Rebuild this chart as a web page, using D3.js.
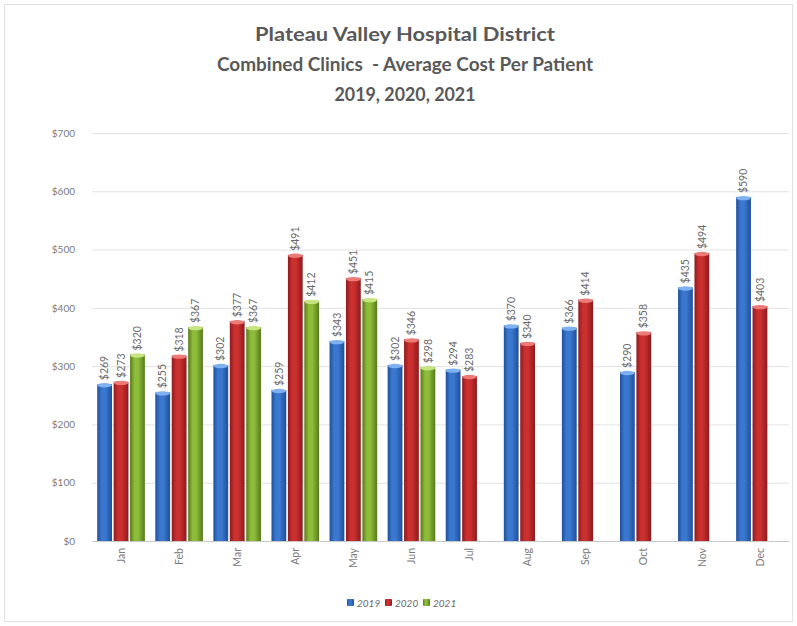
<!DOCTYPE html>
<html>
<head>
<meta charset="utf-8">
<script src="https://cdn.jsdelivr.net/npm/d3@7/dist/d3.min.js"></script>
<style>
  html, body { margin: 0; padding: 0; background: #fff; }
  svg { display: block; }
</style>
</head>
<body>
<svg id="chart" width="797" height="626"></svg>
<script>
const months = ["Jan","Feb","Mar","Apr","May","Jun","Jul","Aug","Sep","Oct","Nov","Dec"];
const seriesNames = ["2019","2020","2021"];
const values2019 = [269,255,302,259,343,302,294,370,366,290,435,590];
const values2020 = [273,318,377,491,451,346,283,340,414,358,494,403];
const values2021 = [320,367,367,412,415,298,null,null,null,null,null,null];
const yTicks = [0,100,200,300,400,500,600,700];
const titleLines = ["Plateau Valley Hospital District","Combined Clinics  - Average Cost Per Patient","2019, 2020, 2021"];

const seriesValues = [values2019, values2020, values2021];
const colors = [
  {dark:"#1f4f9a", mid:"#3a78cf", light:"#7fb0ef"},
  {dark:"#8e1a1d", mid:"#c9302f", light:"#ec7a76"},
  {dark:"#567a1c", mid:"#8dbb3a", light:"#c6e47f"}
];

const svg = d3.select("#chart");
const W = 797, H = 626;
const margin = {left: 92, right: 8, top: 133, bottom: 85};

// outer border
svg.append("rect").attr("x",4.5).attr("y",4.5).attr("width",W-9).attr("height",H-9)
  .attr("fill","none").attr("stroke","#e3e3e3");

// gradients
const defs = svg.append("defs");
colors.forEach((c,i)=>{
  const g = defs.append("linearGradient").attr("id","g"+i).attr("x1","0").attr("x2","1").attr("y1","0").attr("y2","0");
  g.append("stop").attr("offset","0%").attr("stop-color",c.dark);
  g.append("stop").attr("offset","30%").attr("stop-color",c.mid);
  g.append("stop").attr("offset","55%").attr("stop-color",c.mid);
  g.append("stop").attr("offset","100%").attr("stop-color",c.dark);
});

const x0 = d3.scaleBand().domain(months).range([margin.left, W - margin.right]).paddingInner(0.18).paddingOuter(0.09);
const x1 = d3.scaleBand().domain(seriesNames).range([0, x0.bandwidth()]).paddingInner(0.1);
const y = d3.scaleLinear().domain([0,700]).range([H - margin.bottom, margin.top]);

// gridlines
svg.append("g").selectAll("line").data(yTicks).join("line")
  .attr("x1", margin.left).attr("x2", W - margin.right)
  .attr("y1", d=>y(d)+0.5).attr("y2", d=>y(d)+0.5)
  .attr("stroke", d=> d===0 ? "#c8c8c8" : "#e2e2e2").attr("stroke-width",1);

// y axis labels
const yAxis = d3.axisLeft(y).tickValues(yTicks).tickFormat(d=>"$"+d).tickSize(0).tickPadding(0);
const yg = svg.append("g").attr("transform",`translate(75,0)`).call(yAxis);
yg.select(".domain").remove();
yg.selectAll("text").attr("fill","#7a7a7a").style("font-family","Lato, 'Open Sans', sans-serif").style("font-size","10px");

// x axis labels
const xAxis = d3.axisBottom(x0).tickSize(0).tickPadding(0);
const xg = svg.append("g").attr("transform",`translate(0,${H - margin.bottom})`).call(xAxis);
xg.select(".domain").remove();
xg.selectAll("text")
  .attr("fill","#7a7a7a").style("font-family","Lato, 'Open Sans', sans-serif").style("font-size","10.5px")
  .attr("transform","rotate(-90)").attr("text-anchor","end").attr("dy","0.35em").attr("x",-7).attr("y",0);

// bars
const barData = [];
months.forEach((m,mi)=>{
  seriesNames.forEach((s,si)=>{
    const v = seriesValues[si][mi];
    if (v !== null) barData.push({m, s, si, v});
  });
});

const bars = svg.append("g");
bars.selectAll("rect.bar").data(barData).join("rect").attr("class","bar")
  .attr("x", d=>x0(d.m)+x1(d.s))
  .attr("width", x1.bandwidth())
  .attr("y", d=>y(d.v))
  .attr("height", d=>y(0)-y(d.v))
  .attr("fill", d=>`url(#g${d.si})`);

// top caps
bars.selectAll("ellipse.cap").data(barData).join("ellipse").attr("class","cap")
  .attr("cx", d=>x0(d.m)+x1(d.s)+x1.bandwidth()/2)
  .attr("cy", d=>y(d.v)+1)
  .attr("rx", x1.bandwidth()/2)
  .attr("ry", 2.2)
  .attr("fill", d=>colors[d.si].light);

// data labels
svg.append("g").selectAll("text").data(barData).join("text")
  .attr("transform", d=>`translate(${x0(d.m)+x1(d.s)+x1.bandwidth()/2},${y(d.v)-4}) rotate(-90)`)
  .attr("text-anchor","start").attr("dy","0.35em")
  .attr("fill","#6a6a6a").style("font-family","Lato, 'Open Sans', sans-serif").style("font-size","10.5px")
  .text(d=>"$"+d.v);

// title
const titleY = [41, 71, 101];
const titleW = [300, 376, 141];
svg.append("g").selectAll("text").data(titleLines).join("text")
  .attr("x", 405).attr("y", (d,i)=>titleY[i])
  .attr("text-anchor","middle")
  .style("white-space","pre")
  .attr("fill","#595959").style("font-family","Lato, 'Open Sans', sans-serif").style("font-weight","bold").style("font-size","18px")
  .attr("textLength",(d,i)=>titleW[i]).attr("lengthAdjust","spacingAndGlyphs")
  .text(d=>d);

// legend
const legendX = [347, 385, 423];
const lg = svg.append("g").selectAll("g").data(seriesNames).join("g")
  .attr("transform",(d,i)=>`translate(${legendX[i]},603)`);
lg.append("rect").attr("x",0).attr("y",-4).attr("width",7).attr("height",7).attr("rx",1)
  .attr("fill",(d,i)=>`url(#g${i})`);
lg.append("text").attr("x",10).attr("y",0).attr("dy","0.35em")
  .attr("fill","#6a6a6a").style("font-family","Lato, 'Open Sans', sans-serif").style("font-size","10px").style("font-style","italic")
  .text(d=>d);
</script>
</body>
</html>
